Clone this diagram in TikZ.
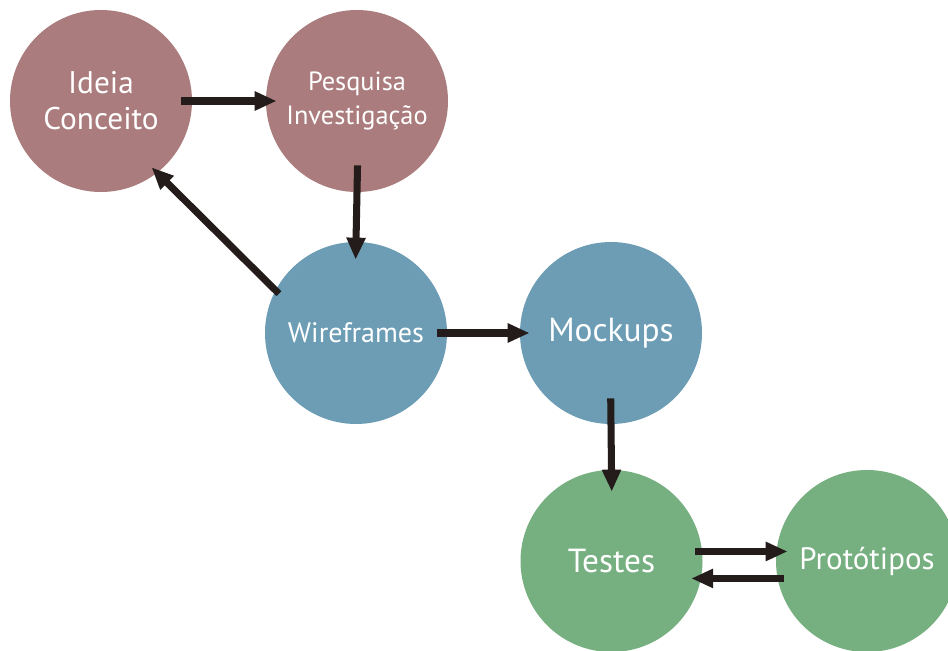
\documentclass[tikz,border=0pt]{standalone}
\usepackage{fontspec}
\setmainfont{PT Sans}
\usetikzlibrary{arrows.meta}

\definecolor{mauve}{RGB}{171,124,125}
\definecolor{steel}{RGB}{108,157,180}
\definecolor{sage}{RGB}{118,175,128}
\definecolor{ink}{RGB}{35,28,26}

\tikzset{
  stage/.style={circle, minimum size=3.64cm, inner sep=0pt, text=white, align=center},
  flow/.style={line width=4pt, color=ink, -{Triangle[length=0.44cm,width=0.36cm]}}
}

\begin{document}
\begin{tikzpicture}

\useasboundingbox (0,0) rectangle (18.96,-13.02);

\node[stage, fill=mauve, font=\fontsize{17.8}{20.5}\selectfont] (idea) at (2.02,-2.02) {Ideia\\Conceito};
\node[stage, fill=mauve, font=\fontsize{15}{19}\selectfont] (pesq) at (7.14,-2.02) {Pesquisa\\Investigação};

\node[stage, fill=steel, font=\fontsize{16}{20}\selectfont] (wire) at (7.12,-6.66) {Wireframes};
\node[stage, fill=steel, font=\fontsize{19}{23}\selectfont] (mock) at (12.22,-6.66) {Mockups};

\node[stage, fill=sage, font=\fontsize{19}{23}\selectfont] (test) at (12.23,-11.22) {Testes};
\node[stage, fill=sage, font=\fontsize{17.6}{21}\selectfont] (proto) at (17.34,-11.22) {Protótipos};

\draw[flow, shorten <=-0.22cm, shorten >=-0.22cm] (idea.east) -- (pesq.west);
\draw[flow, shorten <=-0.54cm, shorten >=-0.36cm] (pesq.south) -- (wire.north);
\draw[flow, shorten <=-0.1cm, shorten >=-0.16cm] (wire.152) -- (idea.-52);
\draw[flow, shorten <=-0.2cm, shorten >=-0.2cm] (wire.east) -- (mock.west);
\draw[flow, shorten <=-0.52cm, shorten >=-0.44cm] (mock.south) -- (test.north);

\draw[flow, shorten <=-0.14cm, shorten >=-0.23cm] (test.6) -- (proto.174);
\draw[flow, shorten <=-0.14cm, shorten >=-0.2cm] (proto.-169) -- (test.-11);

\end{tikzpicture}
\end{document}
